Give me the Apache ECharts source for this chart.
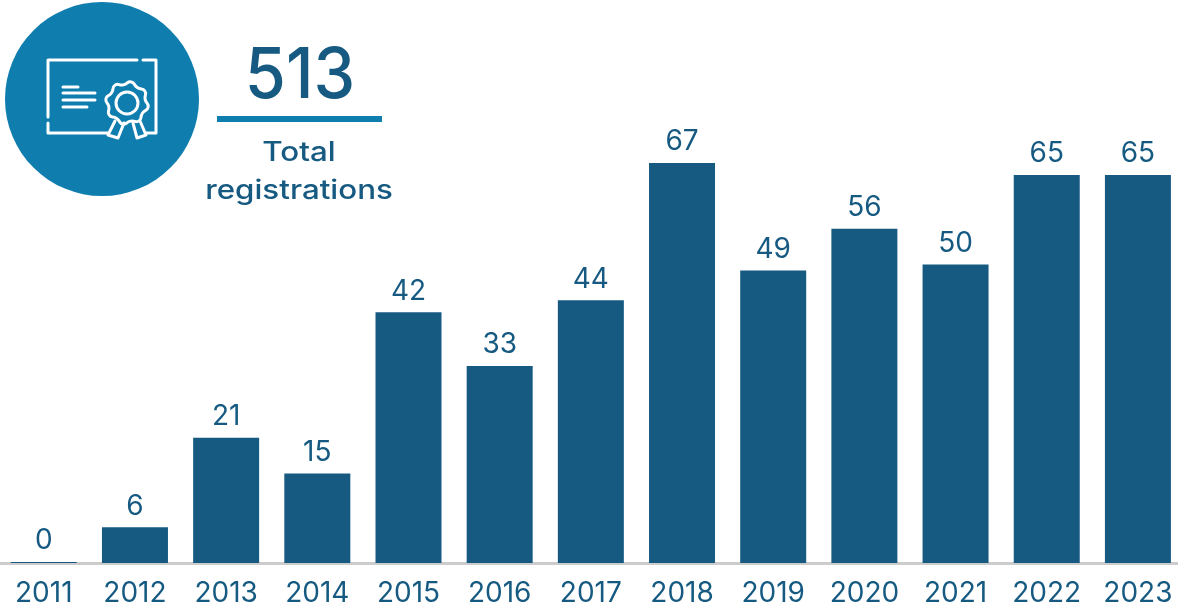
<!DOCTYPE html>
<html><head><meta charset="utf-8">
<style>html,body{margin:0;padding:0;background:#fff}#c{width:1178px;height:610px}</style>
<script src="https://cdn.jsdelivr.net/npm/echarts@6/dist/echarts.min.js"></script>
</head><body><div id="c"></div>
<script>
const years = ['2011','2012','2013','2014','2015','2016','2017','2018','2019','2020','2021','2022','2023'];
const registrations = [0,6,21,15,42,33,44,67,49,56,50,65,65];
const totalValue = '513';
const totalLabel = 'Total\nregistrations';

const NAVY = '#165A82', BLUE = '#0F7DAE', FONT = 'Inter, Lato, sans-serif';
const stroke = {stroke:'#fff', lineWidth:3, fill:null, lineCap:'round', lineJoin:'round'};
function line(pts){return {type:'polyline', shape:{points:pts}, style:stroke, z:12};}
const ros = [];
for(let i=0;i<16;i++){
  const a=i/16*2*Math.PI+Math.PI/16, r=i%2?18.5:21.5;
  ros.push([127+r*Math.cos(a),103+r*Math.sin(a)]);
}
const chart = echarts.init(document.getElementById('c'), null, {renderer:'canvas'});
chart.setOption({
  animation:false,
  backgroundColor:'#fff',
  grid:{left:-1.8, width:1185.3, top:25.7, height:537.3, containLabel:false, outerBoundsMode:'none'},
  xAxis:{type:'category', data:years,
    axisLine:{show:true, lineStyle:{color:'#CCCCCC', width:3}}, axisTick:{show:false},
    axisLabel:{color:NAVY, fontFamily:FONT, fontSize:28, margin:17, interval:0}},
  yAxis:{type:'value', min:0, max:90, show:false, splitLine:{show:false}},
  series:[{type:'bar', data:registrations, barWidth:66, barMinHeight:1,
    itemStyle:{color:NAVY},
    label:{show:true, position:'top', distance:7, color:NAVY, fontFamily:FONT, fontSize:28}}],
  graphic:[
    {type:'circle', shape:{cx:102,cy:99,r:97}, style:{fill:BLUE}, z:10},
    line([[137,60],[48,60],[48,117]]),
    line([[143,60],[156,60],[156,133],[146,133]]),
    line([[48,123],[48,133],[108,133]]),
    line([[63,87],[78,87]]), line([[63,93],[95,93]]), line([[63,100],[95,100]]), line([[63,107],[87,107]]),
    {type:'polygon', shape:{points:ros, smooth:0.6}, style:stroke, z:12},
    {type:'circle', shape:{cx:127,cy:103,r:11}, style:stroke, z:12},
    line([[115,121],[108,135],[118,138],[124,123]]),
    line([[133,123],[137,138],[146,135],[140,121]]),
    {type:'rect', shape:{x:217,y:116,width:165,height:6}, style:{fill:BLUE}, z:10},
    {type:'text', x:300, y:77, scaleX:0.95, z:10, style:{text:totalValue, fill:NAVY, font:'500 70px '+FONT, align:'center', verticalAlign:'middle'}},
    {type:'text', x:299, y:172, scaleX:1.16, z:10, style:{text:totalLabel, fill:NAVY, font:'500 27px '+FONT, lineHeight:38, align:'center', verticalAlign:'middle'}}
  ]
});
</script></body></html>
